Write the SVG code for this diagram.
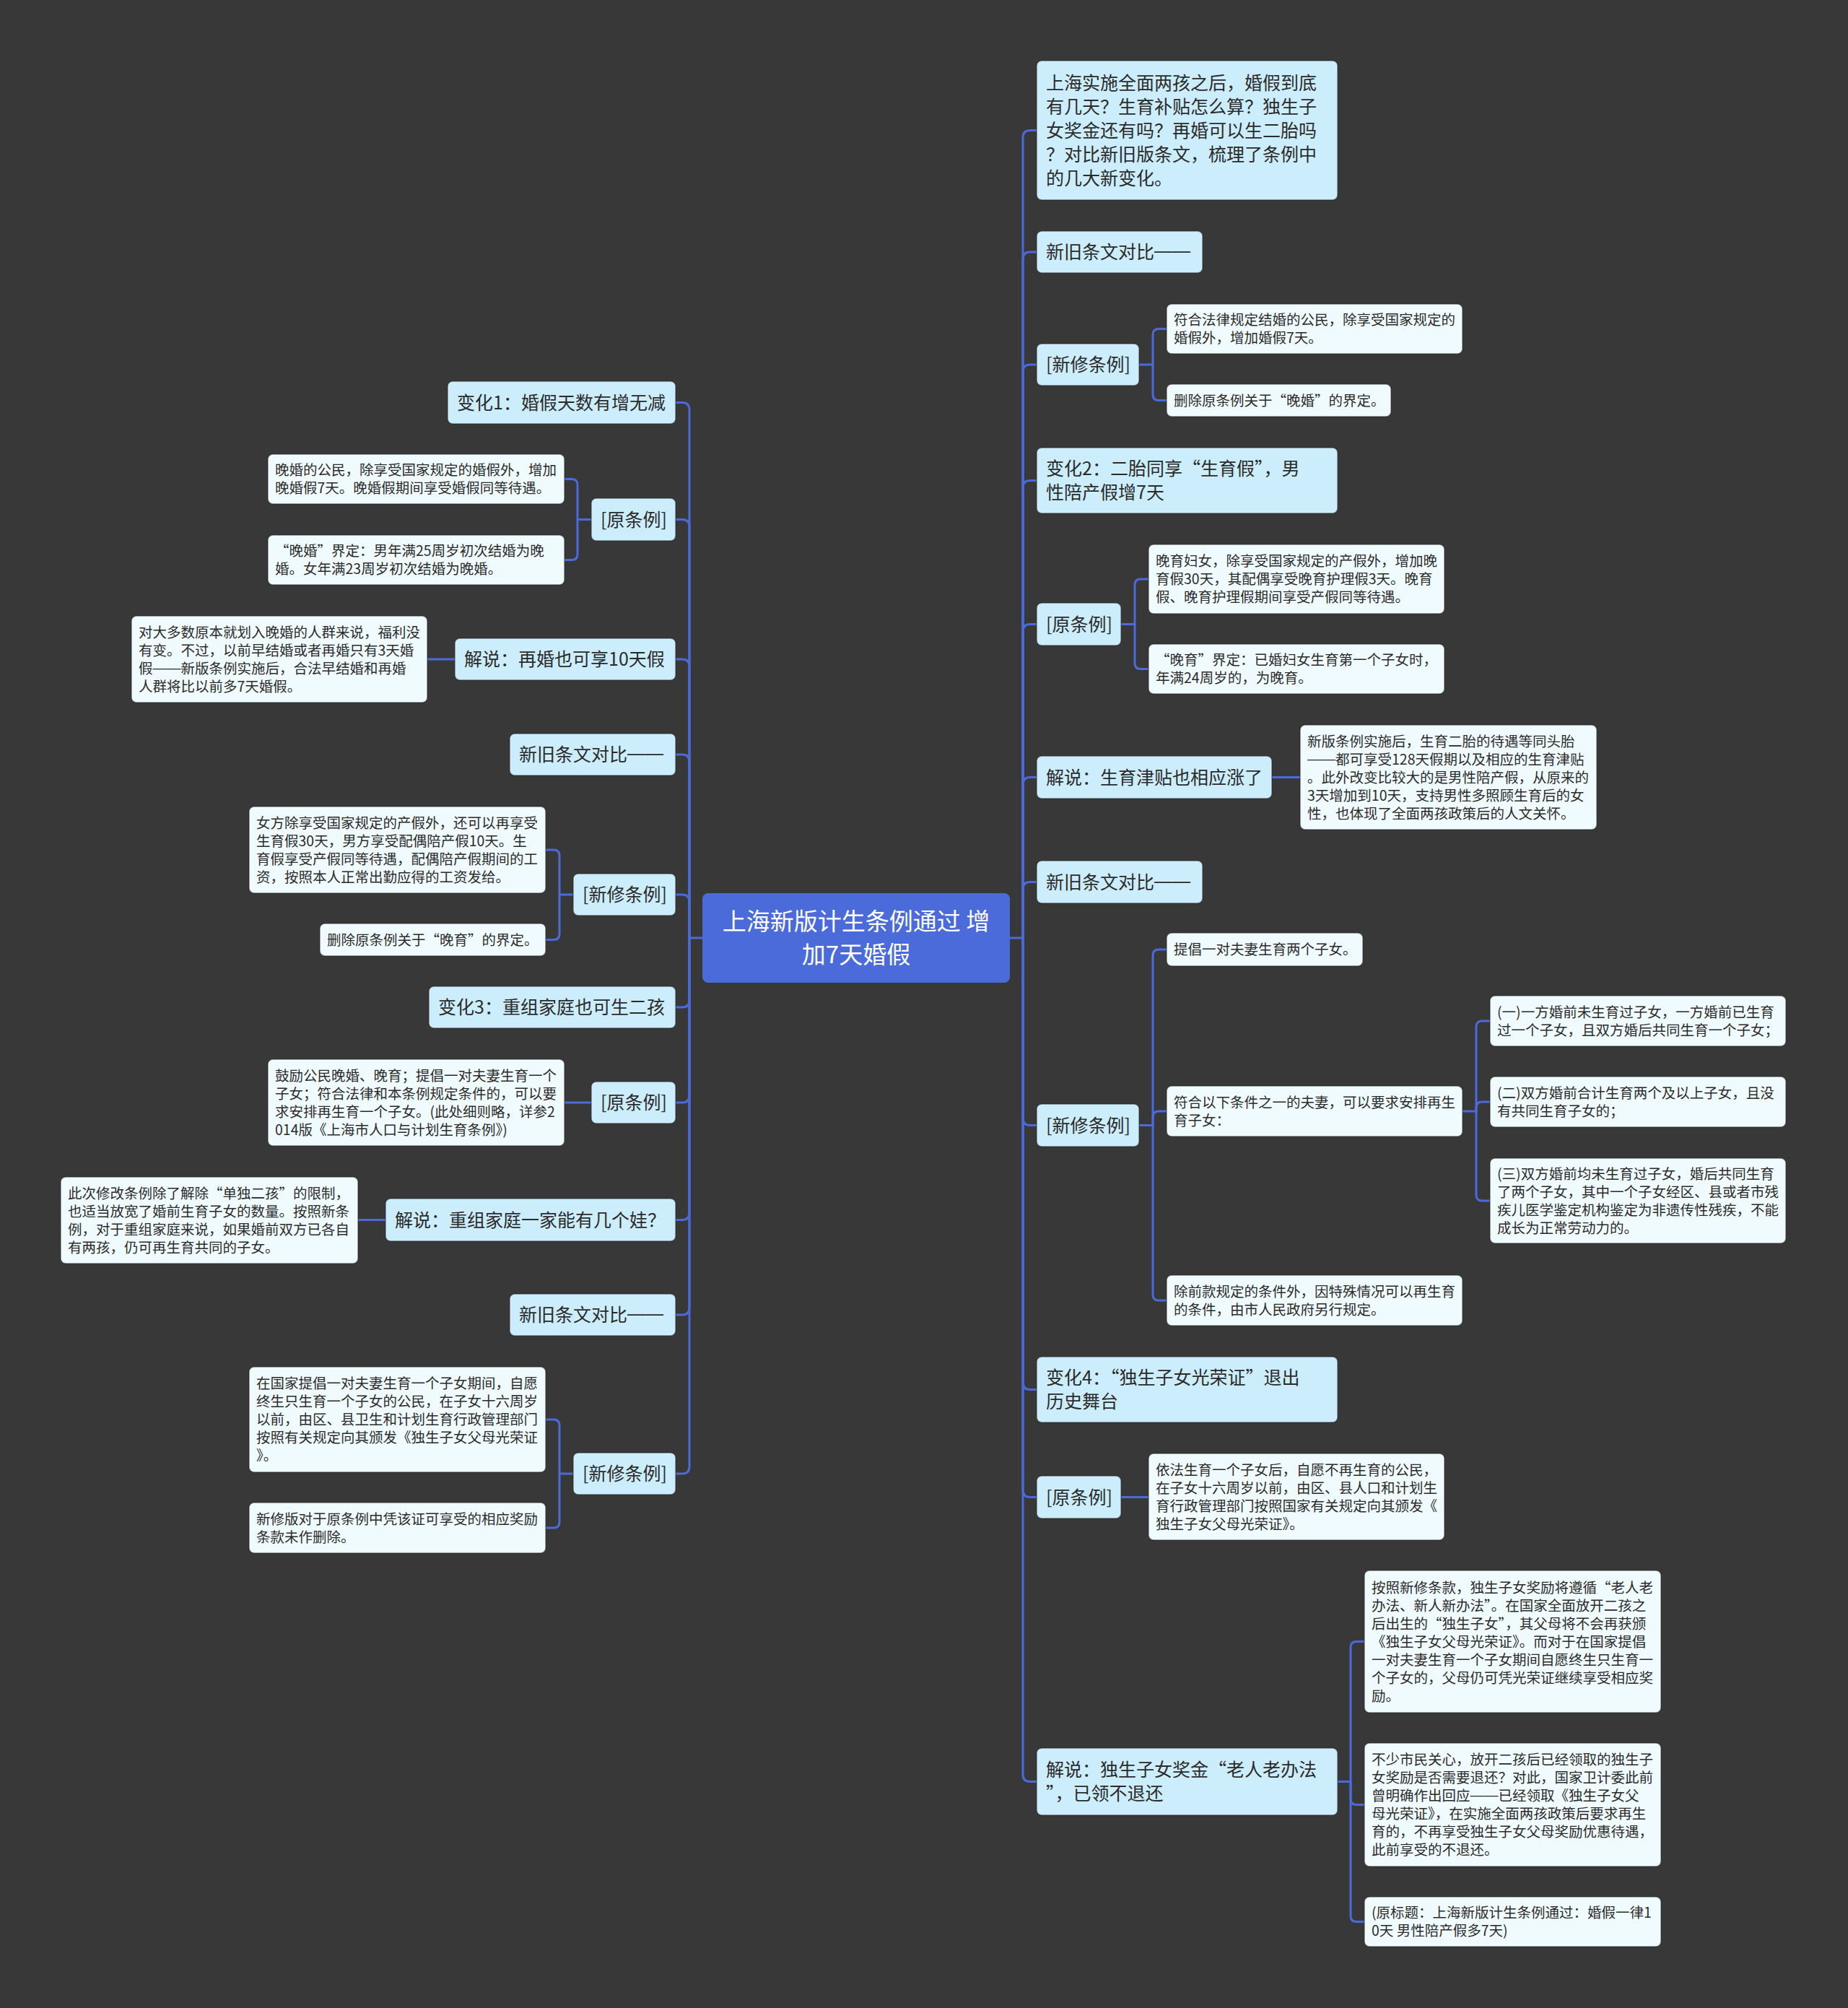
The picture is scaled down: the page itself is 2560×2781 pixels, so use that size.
<svg xmlns="http://www.w3.org/2000/svg" width="2560" height="2781" viewBox="0 0 2560 2781">
<style>
.bg{fill:#393839}
.ln{fill:none;stroke:#4b6bdb;stroke-width:3;stroke-linecap:round;stroke-linejoin:round}
.root{fill:#4b6bdb}
.l1{fill:#ccedfc;stroke:#262626;stroke-opacity:.55;stroke-width:1.5}
.lf{fill:#f0fbff;stroke:#262626;stroke-opacity:.55;stroke-width:1.5}
text{font-family:"Noto Sans CJK SC","Noto Sans",sans-serif}
.tr{font-size:33px;fill:#ffffff;text-anchor:middle}
.t1{font-size:25px;fill:#2b2b2b}
.t2{font-size:19.5px;fill:#2b2b2b}
.dash{font-family:"Liberation Sans","Noto Sans CJK SC",sans-serif}
</style>
<rect class="bg" x="0" y="0" width="2560" height="2781"/>

<g id="connectors">
<path class="ln" d="M1399 1299 H1417"/>
<path class="ln" d="M1417 1299 V190.5 Q1417 180.5 1427 180.5 H1436"/>
<path class="ln" d="M1417 1299 V359 Q1417 349 1427 349 H1436"/>
<path class="ln" d="M1417 1299 V515 Q1417 505 1427 505 H1436"/>
<path class="ln" d="M1417 1299 V675.5 Q1417 665.5 1427 665.5 H1436"/>
<path class="ln" d="M1417 1299 V874.5 Q1417 864.5 1427 864.5 H1436"/>
<path class="ln" d="M1417 1299 V1086.5 Q1417 1076.5 1427 1076.5 H1436"/>
<path class="ln" d="M1417 1299 V1231.5 Q1417 1221.5 1427 1221.5 H1436"/>
<path class="ln" d="M1417 1299 V1548.5 Q1417 1558.5 1427 1558.5 H1436"/>
<path class="ln" d="M1417 1299 V1914.5 Q1417 1924.5 1427 1924.5 H1436"/>
<path class="ln" d="M1417 1299 V2063.5 Q1417 2073.5 1427 2073.5 H1436"/>
<path class="ln" d="M1417 1299 V2457.5 Q1417 2467.5 1427 2467.5 H1436"/>
<path class="ln" d="M973 1299 H955"/>
<path class="ln" d="M955 1299 V567.5 Q955 557.5 945 557.5 H936"/>
<path class="ln" d="M955 1299 V729.5 Q955 719.5 945 719.5 H936"/>
<path class="ln" d="M955 1299 V923 Q955 913 945 913 H936"/>
<path class="ln" d="M955 1299 V1055 Q955 1045 945 1045 H936"/>
<path class="ln" d="M955 1299 V1249 Q955 1239 945 1239 H936"/>
<path class="ln" d="M955 1299 V1385 Q955 1395 945 1395 H936"/>
<path class="ln" d="M955 1299 V1517 Q955 1527 945 1527 H936"/>
<path class="ln" d="M955 1299 V1679.5 Q955 1689.5 945 1689.5 H936"/>
<path class="ln" d="M955 1299 V1811 Q955 1821 945 1821 H936"/>
<path class="ln" d="M955 1299 V2031 Q955 2041 945 2041 H936"/>
<path class="ln" d="M1578 505 H1597"/>
<path class="ln" d="M1597 505 V463.5 Q1597 455.5 1605 455.5 H1616"/>
<path class="ln" d="M1597 505 V546.5 Q1597 554.5 1605 554.5 H1616"/>
<path class="ln" d="M1553 864.5 H1572"/>
<path class="ln" d="M1572 864.5 V810 Q1572 802 1580 802 H1591"/>
<path class="ln" d="M1572 864.5 V918.5 Q1572 926.5 1580 926.5 H1591"/>
<path class="ln" d="M1762 1076.5 H1801"/>
<path class="ln" d="M1578 1558.5 H1597"/>
<path class="ln" d="M1597 1558.5 V1323 Q1597 1315 1605 1315 H1616"/>
<path class="ln" d="M1597 1558.5 V1547 Q1597 1539 1605 1539 H1616"/>
<path class="ln" d="M1597 1558.5 V1793 Q1597 1801 1605 1801 H1616"/>
<path class="ln" d="M2026 1539 H2045"/>
<path class="ln" d="M2045 1539 V1422 Q2045 1414 2053 1414 H2064"/>
<path class="ln" d="M2045 1539 V1534 Q2045 1526 2053 1526 H2064"/>
<path class="ln" d="M2045 1539 V1655 Q2045 1663 2053 1663 H2064"/>
<path class="ln" d="M1553 2073.5 H1591"/>
<path class="ln" d="M1853 2467.5 H1871"/>
<path class="ln" d="M1871 2467.5 V2281.5 Q1871 2273.5 1879 2273.5 H1890"/>
<path class="ln" d="M1871 2467.5 V2491.5 Q1871 2499.5 1879 2499.5 H1890"/>
<path class="ln" d="M1871 2467.5 V2653.5 Q1871 2661.5 1879 2661.5 H1890"/>
<path class="ln" d="M819 719.5 H800"/>
<path class="ln" d="M800 719.5 V671.5 Q800 663.5 792 663.5 H782"/>
<path class="ln" d="M800 719.5 V767.5 Q800 775.5 792 775.5 H782"/>
<path class="ln" d="M630 913 H592"/>
<path class="ln" d="M794 1239 H775"/>
<path class="ln" d="M775 1239 V1185 Q775 1177 767 1177 H756"/>
<path class="ln" d="M775 1239 V1293.5 Q775 1301.5 767 1301.5 H756"/>
<path class="ln" d="M819 1527 H782"/>
<path class="ln" d="M534 1689.5 H496"/>
<path class="ln" d="M794 2041 H775"/>
<path class="ln" d="M775 2041 V1974 Q775 1966 767 1966 H756"/>
<path class="ln" d="M775 2041 V2108 Q775 2116 767 2116 H756"/>
</g>

<g id="root">
<rect class="root" x="973" y="1237" width="426" height="124" rx="8"/>
<text class="tr"><tspan x="1186" y="1288">上海新版计生条例通过 增</tspan><tspan x="1186" y="1334">加7天婚假</tspan></text>
</g>

<!-- right side -->
<g id="r-intro">
<rect class="l1" x="1436" y="84" width="417" height="193" rx="7"/>
<text class="t1"><tspan x="1449" y="124">上海实施全面两孩之后，婚假到底</tspan><tspan x="1449" y="157">有几天？生育补贴怎么算？独生子</tspan><tspan x="1449" y="190">女奖金还有吗？再婚可以生二胎吗</tspan><tspan x="1449" y="223">？对比新旧版条文，梳理了条例中</tspan><tspan x="1449" y="256">的几大新变化。</tspan></text>
</g>
<g id="r-compare1">
<rect class="l1" x="1436" y="320" width="230" height="58" rx="7"/>
<text class="t1" x="1449" y="358">新旧条文对比<tspan class="dash" baseline-shift="2px">——</tspan></text>
</g>
<g id="r-new1">
<rect class="l1" x="1436" y="476" width="142" height="58" rx="7"/>
<text class="t1" x="1449" y="514">[新修条例]</text>
</g>
<g id="r-new1-a">
<rect class="lf" x="1616" y="421" width="410" height="69" rx="7"/>
<text class="t2"><tspan x="1626" y="450">符合法律规定结婚的公民，除享受国家规定的</tspan><tspan x="1626" y="475">婚假外，增加婚假7天。</tspan></text>
</g>
<g id="r-new1-b">
<rect class="lf" x="1616" y="532" width="311" height="45" rx="7"/>
<text class="t2" x="1626" y="561.5">删除原条例关于“晚婚”的界定。</text>
</g>
<g id="r-change2">
<rect class="l1" x="1436" y="620" width="417" height="91" rx="7"/>
<text class="t1"><tspan x="1449" y="658">变化2：二胎同享“生育假”，男</tspan><tspan x="1449" y="691">性陪产假增7天</tspan></text>
</g>
<g id="r-old2">
<rect class="l1" x="1436" y="835" width="117" height="59" rx="7"/>
<text class="t1" x="1449" y="873.5">[原条例]</text>
</g>
<g id="r-old2-a">
<rect class="lf" x="1591" y="754" width="410" height="96" rx="7"/>
<text class="t2"><tspan x="1601" y="784">晚育妇女，除享受国家规定的产假外，增加晚</tspan><tspan x="1601" y="809">育假30天，其配偶享受晚育护理假3天。晚育</tspan><tspan x="1601" y="834">假、晚育护理假期间享受产假同等待遇。</tspan></text>
</g>
<g id="r-old2-b">
<rect class="lf" x="1591" y="892" width="410" height="69" rx="7"/>
<text class="t2"><tspan x="1601" y="921">“晚育”界定：已婚妇女生育第一个子女时，</tspan><tspan x="1601" y="946">年满24周岁的，为晚育。</tspan></text>
</g>
<g id="r-explain2">
<rect class="l1" x="1436" y="1047" width="326" height="59" rx="7"/>
<text class="t1" x="1449" y="1085.5">解说：生育津贴也相应涨了</text>
</g>
<g id="r-explain2-a">
<rect class="lf" x="1801" y="1004" width="411" height="145" rx="7"/>
<text class="t2"><tspan x="1811" y="1033.5">新版条例实施后，生育二胎的待遇等同头胎</tspan><tspan x="1811" y="1058.5"><tspan class="dash" baseline-shift="1.5px">——</tspan>都可享受128天假期以及相应的生育津贴</tspan><tspan x="1811" y="1083.5">。此外改变比较大的是男性陪产假，从原来的</tspan><tspan x="1811" y="1108.5">3天增加到10天，支持男性多照顾生育后的女</tspan><tspan x="1811" y="1133.5">性，也体现了全面两孩政策后的人文关怀。</tspan></text>
</g>
<g id="r-compare2">
<rect class="l1" x="1436" y="1192" width="230" height="59" rx="7"/>
<text class="t1" x="1449" y="1230.5">新旧条文对比<tspan class="dash" baseline-shift="2px">——</tspan></text>
</g>
<g id="r-new3">
<rect class="l1" x="1436" y="1529" width="142" height="59" rx="7"/>
<text class="t1" x="1449" y="1567.5">[新修条例]</text>
</g>
<g id="r-new3-a">
<rect class="lf" x="1616" y="1292" width="272" height="46" rx="7"/>
<text class="t2" x="1626" y="1322">提倡一对夫妻生育两个子女。</text>
</g>
<g id="r-new3-b">
<rect class="lf" x="1616" y="1504" width="410" height="70" rx="7"/>
<text class="t2"><tspan x="1626" y="1533.5">符合以下条件之一的夫妻，可以要求安排再生</tspan><tspan x="1626" y="1558.5">育子女：</tspan></text>
</g>
<g id="r-new3-b1">
<rect class="lf" x="2064" y="1379" width="410" height="70" rx="7"/>
<text class="t2"><tspan x="2074" y="1408.5">(一)一方婚前未生育过子女，一方婚前已生育</tspan><tspan x="2074" y="1433.5">过一个子女，且双方婚后共同生育一个子女；</tspan></text>
</g>
<g id="r-new3-b2">
<rect class="lf" x="2064" y="1491" width="410" height="70" rx="7"/>
<text class="t2"><tspan x="2074" y="1520.5">(二)双方婚前合计生育两个及以上子女，且没</tspan><tspan x="2074" y="1545.5">有共同生育子女的；</tspan></text>
</g>
<g id="r-new3-b3">
<rect class="lf" x="2064" y="1604" width="410" height="118" rx="7"/>
<text class="t2"><tspan x="2074" y="1632.5">(三)双方婚前均未生育过子女，婚后共同生育</tspan><tspan x="2074" y="1657.5">了两个子女，其中一个子女经区、县或者市残</tspan><tspan x="2074" y="1682.5">疾儿医学鉴定机构鉴定为非遗传性残疾，不能</tspan><tspan x="2074" y="1707.5">成长为正常劳动力的。</tspan></text>
</g>
<g id="r-new3-c">
<rect class="lf" x="1616" y="1766" width="410" height="70" rx="7"/>
<text class="t2"><tspan x="1626" y="1795.5">除前款规定的条件外，因特殊情况可以再生育</tspan><tspan x="1626" y="1820.5">的条件，由市人民政府另行规定。</tspan></text>
</g>
<g id="r-change4">
<rect class="l1" x="1436" y="1879" width="417" height="91" rx="7"/>
<text class="t1"><tspan x="1449" y="1917">变化4：“独生子女光荣证”退出</tspan><tspan x="1449" y="1950">历史舞台</tspan></text>
</g>
<g id="r-old4">
<rect class="l1" x="1436" y="2044" width="117" height="59" rx="7"/>
<text class="t1" x="1449" y="2082.5">[原条例]</text>
</g>
<g id="r-old4-a">
<rect class="lf" x="1591" y="2013" width="410" height="120" rx="7"/>
<text class="t2"><tspan x="1601" y="2042.5">依法生育一个子女后，自愿不再生育的公民，</tspan><tspan x="1601" y="2067.5">在子女十六周岁以前，由区、县人口和计划生</tspan><tspan x="1601" y="2092.5">育行政管理部门按照国家有关规定向其颁发《</tspan><tspan x="1601" y="2117.5">独生子女父母光荣证》。</tspan></text>
</g>
<g id="r-explain4">
<rect class="l1" x="1436" y="2421" width="417" height="93" rx="7"/>
<text class="t1"><tspan x="1449" y="2460">解说：独生子女奖金“老人老办法</tspan><tspan x="1449" y="2493">”，已领不退还</tspan></text>
</g>
<g id="r-explain4-a">
<rect class="lf" x="1890" y="2175" width="411" height="197" rx="7"/>
<text class="t2"><tspan x="1900" y="2205.5">按照新修条款，独生子女奖励将遵循“老人老</tspan><tspan x="1900" y="2230.5">办法、新人新办法”。在国家全面放开二孩之</tspan><tspan x="1900" y="2255.5">后出生的“独生子女”，其父母将不会再获颁</tspan><tspan x="1900" y="2280.5">《独生子女父母光荣证》。而对于在国家提倡</tspan><tspan x="1900" y="2305.5">一对夫妻生育一个子女期间自愿终生只生育一</tspan><tspan x="1900" y="2330.5">个子女的，父母仍可凭光荣证继续享受相应奖</tspan><tspan x="1900" y="2355.5">励。</tspan></text>
</g>
<g id="r-explain4-b">
<rect class="lf" x="1890" y="2414" width="411" height="171" rx="7"/>
<text class="t2"><tspan x="1900" y="2444">不少市民关心，放开二孩后已经领取的独生子</tspan><tspan x="1900" y="2469">女奖励是否需要退还？对此，国家卫计委此前</tspan><tspan x="1900" y="2494">曾明确作出回应<tspan class="dash" baseline-shift="1.5px">——</tspan>已经领取《独生子女父</tspan><tspan x="1900" y="2519">母光荣证》，在实施全面两孩政策后要求再生</tspan><tspan x="1900" y="2544">育的，不再享受独生子女父母奖励优惠待遇，</tspan><tspan x="1900" y="2569">此前享受的不退还。</tspan></text>
</g>
<g id="r-explain4-c">
<rect class="lf" x="1890" y="2627" width="411" height="69" rx="7"/>
<text class="t2"><tspan x="1900" y="2656">(原标题：上海新版计生条例通过：婚假一律1</tspan><tspan x="1900" y="2681">0天 男性陪产假多7天)</tspan></text>
</g>

<!-- left side -->
<g id="l-change1">
<rect class="l1" x="620" y="528" width="316" height="59" rx="7"/>
<text class="t1" x="633" y="566.5">变化1：婚假天数有增无减</text>
</g>
<g id="l-old1">
<rect class="l1" x="819" y="690" width="117" height="59" rx="7"/>
<text class="t1" x="832" y="728.5">[原条例]</text>
</g>
<g id="l-old1-a">
<rect class="lf" x="371" y="629" width="411" height="69" rx="7"/>
<text class="t2"><tspan x="381" y="658">晚婚的公民，除享受国家规定的婚假外，增加</tspan><tspan x="381" y="683">晚婚假7天。晚婚假期间享受婚假同等待遇。</tspan></text>
</g>
<g id="l-old1-b">
<rect class="lf" x="371" y="741" width="411" height="69" rx="7"/>
<text class="t2"><tspan x="381" y="770">“晚婚”界定：男年满25周岁初次结婚为晚</tspan><tspan x="381" y="795">婚。女年满23周岁初次结婚为晚婚。</tspan></text>
</g>
<g id="l-explain1">
<rect class="l1" x="630" y="884" width="306" height="58" rx="7"/>
<text class="t1" x="643" y="922">解说：再婚也可享10天假</text>
</g>
<g id="l-explain1-a">
<rect class="lf" x="182" y="853" width="410" height="120" rx="7"/>
<text class="t2"><tspan x="192" y="882.5">对大多数原本就划入晚婚的人群来说，福利没</tspan><tspan x="192" y="907.5">有变。不过，以前早结婚或者再婚只有3天婚</tspan><tspan x="192" y="932.5">假<tspan class="dash" baseline-shift="1.5px">——</tspan>新版条例实施后，合法早结婚和再婚</tspan><tspan x="192" y="957.5">人群将比以前多7天婚假。</tspan></text>
</g>
<g id="l-compare1">
<rect class="l1" x="706" y="1016" width="230" height="58" rx="7"/>
<text class="t1" x="719" y="1054">新旧条文对比<tspan class="dash" baseline-shift="2px">——</tspan></text>
</g>
<g id="l-new2">
<rect class="l1" x="794" y="1210" width="142" height="58" rx="7"/>
<text class="t1" x="807" y="1248">[新修条例]</text>
</g>
<g id="l-new2-a">
<rect class="lf" x="345" y="1117" width="411" height="120" rx="7"/>
<text class="t2"><tspan x="355" y="1146.5">女方除享受国家规定的产假外，还可以再享受</tspan><tspan x="355" y="1171.5">生育假30天，男方享受配偶陪产假10天。生</tspan><tspan x="355" y="1196.5">育假享受产假同等待遇，配偶陪产假期间的工</tspan><tspan x="355" y="1221.5">资，按照本人正常出勤应得的工资发给。</tspan></text>
</g>
<g id="l-new2-b">
<rect class="lf" x="443" y="1279" width="313" height="45" rx="7"/>
<text class="t2" x="453" y="1308.5">删除原条例关于“晚育”的界定。</text>
</g>
<g id="l-change3">
<rect class="l1" x="594" y="1366" width="342" height="58" rx="7"/>
<text class="t1" x="607" y="1404">变化3：重组家庭也可生二孩</text>
</g>
<g id="l-old3">
<rect class="l1" x="819" y="1498" width="117" height="58" rx="7"/>
<text class="t1" x="832" y="1536">[原条例]</text>
</g>
<g id="l-old3-a">
<rect class="lf" x="371" y="1467" width="411" height="120" rx="7"/>
<text class="t2"><tspan x="381" y="1496.5">鼓励公民晚婚、晚育；提倡一对夫妻生育一个</tspan><tspan x="381" y="1521.5">子女；符合法律和本条例规定条件的，可以要</tspan><tspan x="381" y="1546.5">求安排再生育一个子女。(此处细则略，详参2</tspan><tspan x="381" y="1571.5">014版《上海市人口与计划生育条例》)</tspan></text>
</g>
<g id="l-explain3">
<rect class="l1" x="534" y="1660" width="402" height="59" rx="7"/>
<text class="t1" x="547" y="1698.5">解说：重组家庭一家能有几个娃？</text>
</g>
<g id="l-explain3-a">
<rect class="lf" x="84" y="1630" width="412" height="120" rx="7"/>
<text class="t2"><tspan x="94" y="1659.5">此次修改条例除了解除“单独二孩”的限制，</tspan><tspan x="94" y="1684.5">也适当放宽了婚前生育子女的数量。按照新条</tspan><tspan x="94" y="1709.5">例，对于重组家庭来说，如果婚前双方已各自</tspan><tspan x="94" y="1734.5">有两孩，仍可再生育共同的子女。</tspan></text>
</g>
<g id="l-compare2">
<rect class="l1" x="706" y="1792" width="230" height="58" rx="7"/>
<text class="t1" x="719" y="1830">新旧条文对比<tspan class="dash" baseline-shift="2px">——</tspan></text>
</g>
<g id="l-new4">
<rect class="l1" x="794" y="2012" width="142" height="58" rx="7"/>
<text class="t1" x="807" y="2050">[新修条例]</text>
</g>
<g id="l-new4-a">
<rect class="lf" x="345" y="1893" width="411" height="146" rx="7"/>
<text class="t2"><tspan x="355" y="1923">在国家提倡一对夫妻生育一个子女期间，自愿</tspan><tspan x="355" y="1948">终生只生育一个子女的公民，在子女十六周岁</tspan><tspan x="355" y="1973">以前，由区、县卫生和计划生育行政管理部门</tspan><tspan x="355" y="1998">按照有关规定向其颁发《独生子女父母光荣证</tspan><tspan x="355" y="2023">》。</tspan></text>
</g>
<g id="l-new4-b">
<rect class="lf" x="345" y="2081" width="411" height="70" rx="7"/>
<text class="t2"><tspan x="355" y="2110.5">新修版对于原条例中凭该证可享受的相应奖励</tspan><tspan x="355" y="2135.5">条款未作删除。</tspan></text>
</g>
</svg>
